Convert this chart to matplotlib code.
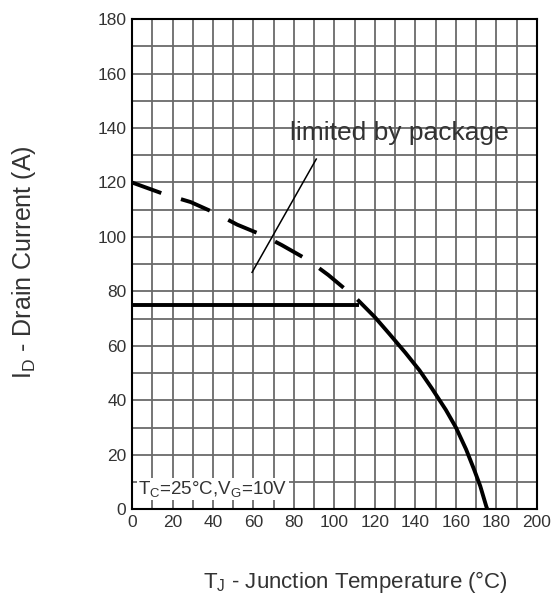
import numpy as np
import matplotlib
matplotlib.use("Agg")
import matplotlib.pyplot as plt

plt.rcParams['font.family'] = ['Liberation Sans', 'DejaVu Sans']
plt.rcParams['mathtext.default'] = 'regular'

# Données lues sur la courbe
# limite courant (trait plein)
t_plat = [0, 112]
i_plat = [75, 75]
t_curve = [112, 120, 127, 135, 142, 148, 155, 160, 165, 169, 172, 175, 175.5]
i_curve = [76.5, 70.5, 64.5, 57.5, 51, 44.5, 36.5, 30, 22, 14.5, 8.5, 1, 0]
# limite boîtier (tirets)
t_dash = [0, 16, 29, 41, 52, 65, 74, 87, 97, 106, 112]
i_dash = [120, 115.7, 112.8, 108.8, 104.5, 100.5, 97, 91.5, 86, 80.4, 76.5]
# trait de repère
t_lead = [59.3, 91]
i_lead = [87, 128.6]

x_ticks = np.arange(0, 201, 20)
y_ticks = np.arange(0, 181, 20)

fig = plt.figure(figsize=(5.57, 5.97), dpi=100)
ax = fig.add_axes([0.237, 0.147, 0.727, 0.821])

ax.set_xlim(0, 200)
ax.set_ylim(0, 180)
ax.set_xticks(x_ticks)
ax.set_yticks(y_ticks)
ax.set_xticks(np.arange(0, 201, 10), minor=True)
ax.set_yticks(np.arange(0, 181, 10), minor=True)
ax.grid(True, which='both', color='#6a6a6a', lw=1.3)
ax.tick_params(which='both', length=0, labelsize=12.5, pad=4, labelcolor='#333333')
for s in ax.spines.values():
    s.set_linewidth(1.5)

ax.plot(t_plat, i_plat, color='black', lw=2.8, solid_capstyle='butt')
ax.plot(t_curve, i_curve, color='black', lw=2.8, solid_joinstyle='round')
ax.plot(t_dash, i_dash, color='black', lw=2.8, dashes=(8, 5.3))
ax.plot(t_lead, i_lead, color='black', lw=1.1)

ax.text(78, 138, 'limited by package', fontsize=19, color='#333333',
        va='center', ha='left')
ax.text(3, 7.5, 'T$_C$=25°C,V$_G$=10V', fontsize=13.5, color='#333333',
        va='center', ha='left',
        bbox=dict(facecolor='white', edgecolor='none', pad=1))

fig.text(355 / 557, 1 - 582 / 597, 'T$_J$ - Junction Temperature (°C)',
         fontsize=16, ha='center', va='center', color='#333333')
fig.text(24 / 557, 1 - 262 / 597, 'I$_D$ - Drain Current (A)',
         fontsize=18, ha='center', va='center', rotation=90, color='#333333')

fig.savefig('out.png', dpi=100)
